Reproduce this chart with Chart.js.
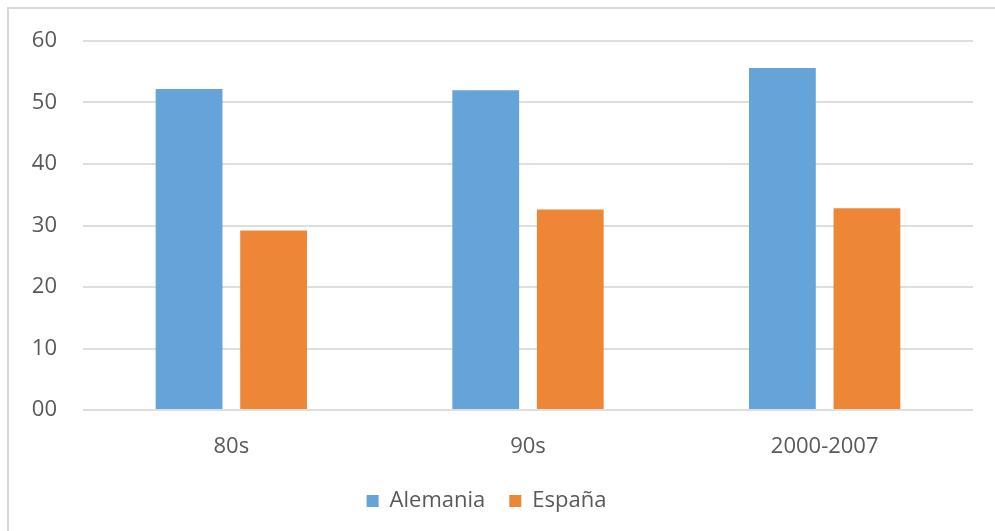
<!DOCTYPE html>
<html>
<head>
<meta charset="utf-8">
<script src="https://cdn.jsdelivr.net/npm/chart.js@4"></script>
<style>
  html, body { margin: 0; padding: 0; background: #fff; }
  #frame { position: absolute; left: 7px; top: 7px; width: 1000px; height: 540px; border: 2px solid #d9d9d9; box-sizing: border-box; }
  #wrap { position: absolute; left: 0; top: 0; width: 995px; height: 531px; }
</style>
</head>
<body>
<div id="frame"></div>
<div id="wrap"><canvas id="chart"></canvas></div>
<script>
  // Chart data
  var periods = ['80s', '90s', '2000-2007'];
  var alemania = [52.2, 52.0, 55.6];
  var espana = [29.2, 32.6, 32.8];

  var textColor = '#595959';
  var fontFamily = '"Open Sans", "Noto Sans", sans-serif';

  Chart.defaults.font.family = fontFamily;
  Chart.defaults.color = textColor;

  var ctx = document.getElementById('chart').getContext('2d');
  new Chart(ctx, {
    type: 'bar',
    data: {
      labels: periods,
      datasets: [
        { label: 'Alemania', data: alemania, backgroundColor: '#66a3d9', borderWidth: 0 },
        { label: 'España', data: espana, backgroundColor: '#ee8638', borderWidth: 0 }
      ]
    },
    options: {
      responsive: true,
      maintainAspectRatio: false,
      animation: false,
      categoryPercentage: 0.57,
      barPercentage: 0.79,
      layout: { padding: { top: 41, right: 22, left: 0, bottom: 9 } },
      plugins: {
        legend: {
          position: 'bottom',
          labels: {
            boxWidth: 12,
            boxHeight: 12,
            padding: 24,
            font: { size: 22 },
            color: textColor
          }
        },
        tooltip: { enabled: false }
      },
      scales: {
        x: {
          grid: { display: false },
          border: { display: false },
          ticks: { padding: 16, font: { size: 22 }, color: textColor },
          afterFit: function(axis) { axis.height = 56; }
        },
        y: {
          min: 0,
          max: 60,
          ticks: {
            stepSize: 10,
            padding: 26,
            font: { size: 22 },
            color: textColor,
            callback: function(v) { return (v < 10 ? '0' : '') + v; }
          },
          grid: { color: '#dedede', lineWidth: 2, drawTicks: false },
          border: { display: false },
          afterFit: function(axis) { axis.width = 83; }
        }
      }
    }
  });
</script>
</body>
</html>
